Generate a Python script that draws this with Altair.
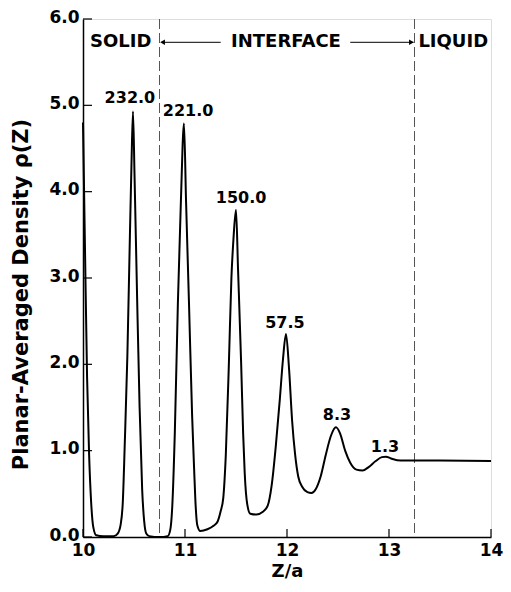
import altair as alt
import pandas as pd

# curve data
z_vals = [10.00, 10.02, 10.04, 10.06, 10.08, 10.10, 10.13, 10.20, 10.30, 10.34, 10.37, 10.39, 10.41, 10.435, 10.46, 10.475, 10.49,
          10.505, 10.53, 10.555, 10.58, 10.60, 10.62, 10.65, 10.75, 10.83, 10.855, 10.875, 10.90, 10.93, 10.96, 10.99,
          11.01, 11.04, 11.07, 11.09, 11.105, 11.12, 11.15, 11.22, 11.28, 11.32, 11.35, 11.375, 11.40, 11.43, 11.455, 11.475, 11.50,
          11.52, 11.55, 11.57, 11.585, 11.61, 11.64, 11.70, 11.76, 11.81, 11.85, 11.89, 11.93, 11.96, 11.99,
          12.02, 12.05, 12.08, 12.11, 12.15, 12.20, 12.24, 12.28, 12.33, 12.38, 12.43, 12.48,
          12.52, 12.57, 12.62, 12.68, 12.74, 12.80, 12.87, 12.93, 12.97, 13.02, 13.08, 13.15, 13.50, 14.00]
rho_vals = [4.80, 3.30, 1.85, 0.95, 0.40, 0.12, 0.02, 0.01, 0.01, 0.04, 0.15, 0.40, 1.10, 2.10, 3.50, 4.30, 4.93,
            4.20, 2.80, 1.50, 0.55, 0.18, 0.04, 0.01, 0.00, 0.01, 0.08, 0.35, 1.20, 2.70, 3.90, 4.79,
            3.90, 2.67, 1.40, 0.77, 0.35, 0.14, 0.07, 0.09, 0.13, 0.18, 0.30, 0.45, 0.95, 2.00, 3.00, 3.45, 3.79,
            3.10, 2.03, 1.20, 0.75, 0.38, 0.27, 0.26, 0.29, 0.36, 0.60, 1.05, 1.60, 2.05, 2.35,
            1.95, 1.35, 0.95, 0.70, 0.58, 0.52, 0.51, 0.55, 0.70, 0.95, 1.17, 1.27,
            1.20, 1.00, 0.86, 0.78, 0.77, 0.81, 0.88, 0.925, 0.93, 0.91, 0.89, 0.885, 0.885, 0.88]

# peak labels
peak_text = ["232.0", "221.0", "150.0", "57.5", "8.3", "1.3"]
peak_x = [10.46, 11.03, 11.55, 11.98, 12.49, 12.96]
peak_y = [5.08, 4.93, 3.93, 2.48, 1.41, 1.04]

# region boundaries and labels
bound_x = [10.75, 13.25]
region_text = ["SOLID", "INTERFACE", "LIQUID"]
region_x = [10.37, 11.99, 13.63]
region_y = [5.73, 5.73, 5.73]

# arrows
arrow_x = [10.77, 12.62]
arrow_x2 = [11.35, 13.24]
arrow_y = [5.73, 5.73]
head_x = [10.78, 13.22]
head_shape = ["triangle-left", "triangle-right"]

x_ticks = [10, 11, 12, 13, 14]
y_ticks = [0, 1, 2, 3, 4, 5, 6]

FONT = "DejaVu Sans"

curve_df = pd.DataFrame({"z": z_vals, "rho": rho_vals})
peak_df = pd.DataFrame({"z": peak_x, "rho": peak_y, "t": peak_text})
bound_df = pd.DataFrame({"z": bound_x})
region_df = pd.DataFrame({"z": region_x, "rho": region_y, "t": region_text})
arrow_df = pd.DataFrame({"z": arrow_x, "z2": arrow_x2, "rho": arrow_y})
head_df = pd.DataFrame({"z": head_x, "rho": arrow_y, "s": head_shape})
xt_df = pd.DataFrame({"z": x_ticks})
yt_df = pd.DataFrame({"rho": y_ticks})

xscale = alt.Scale(domain=[10, 14], nice=False, zero=False)
yscale = alt.Scale(domain=[0, 6], nice=False)

W, H = 408, 518

xaxis = alt.Axis(values=x_ticks, format="d", tickSize=0, labelPadding=5, labelFlush=False,
                 labelFont=FONT, labelFontSize=17, labelFontWeight="bold", labelColor="black",
                 title="Z/a", titleFont=FONT, titleFontSize=18, titleFontWeight="bold", titleColor="black",
                 titlePadding=4, grid=False, domainColor="black", domainWidth=1.5)
yaxis = alt.Axis(values=y_ticks, format=".1f", tickSize=0, labelPadding=4, labelFlush=False, labelOffset=-2,
                 labelFont=FONT, labelFontSize=17, labelFontWeight="bold", labelColor="black",
                 title="Planar-Averaged Density ρ(Z)", titleFont=FONT, titleFontSize=21, titleFontWeight="bold",
                 titleColor="black", titleX=-62, titleY=275, titleAlign="center", titleBaseline="middle",
                 grid=False, domainColor="black", domainWidth=1.5)

curve = alt.Chart(curve_df).mark_line(color="black", strokeWidth=2, interpolate="monotone").encode(
    x=alt.X("z:Q", scale=xscale, axis=xaxis),
    y=alt.Y("rho:Q", scale=yscale, axis=yaxis),
)

bounds = alt.Chart(bound_df).mark_rule(color="#555555", strokeWidth=1, strokeDash=[10, 4]).encode(
    x=alt.X("z:Q", scale=xscale)
)

xticks = alt.Chart(xt_df).mark_rule(color="black", strokeWidth=1.2).encode(
    x=alt.X("z:Q", scale=xscale), y=alt.value(H), y2=alt.value(H - 8)
)
yticks = alt.Chart(yt_df).mark_rule(color="black", strokeWidth=1.2).encode(
    y=alt.Y("rho:Q", scale=yscale), x=alt.value(0), x2=alt.value(9)
)

peaks = alt.Chart(peak_df).mark_text(font=FONT, fontSize=16, fontWeight="bold", color="black",
                                     align="center", baseline="middle").encode(
    x=alt.X("z:Q", scale=xscale), y=alt.Y("rho:Q", scale=yscale), text="t:N"
)

regions = alt.Chart(region_df).mark_text(font=FONT, fontSize=18, fontWeight="bold", color="black",
                                         align="center", baseline="middle").encode(
    x=alt.X("z:Q", scale=xscale), y=alt.Y("rho:Q", scale=yscale), text="t:N"
)

arrows = alt.Chart(arrow_df).mark_rule(color="black", strokeWidth=1).encode(
    x=alt.X("z:Q", scale=xscale), x2="z2:Q", y=alt.Y("rho:Q", scale=yscale)
)
heads = alt.Chart(head_df).mark_point(filled=True, color="black", size=30, opacity=1).encode(
    x=alt.X("z:Q", scale=xscale), y=alt.Y("rho:Q", scale=yscale),
    shape=alt.Shape("s:N", scale=None)
)

chart = alt.layer(bounds, curve, xticks, yticks, peaks, regions, arrows, heads).properties(
    width=W, height=H,
    autosize=alt.AutoSizeParams(type="none"),
    padding={"left": 75, "top": 11, "right": 12, "bottom": 47},
).configure_view(stroke="black", strokeWidth=1.5).configure(background="white")

chart.save("out.html", embed_options={"renderer": "svg", "actions": False})
